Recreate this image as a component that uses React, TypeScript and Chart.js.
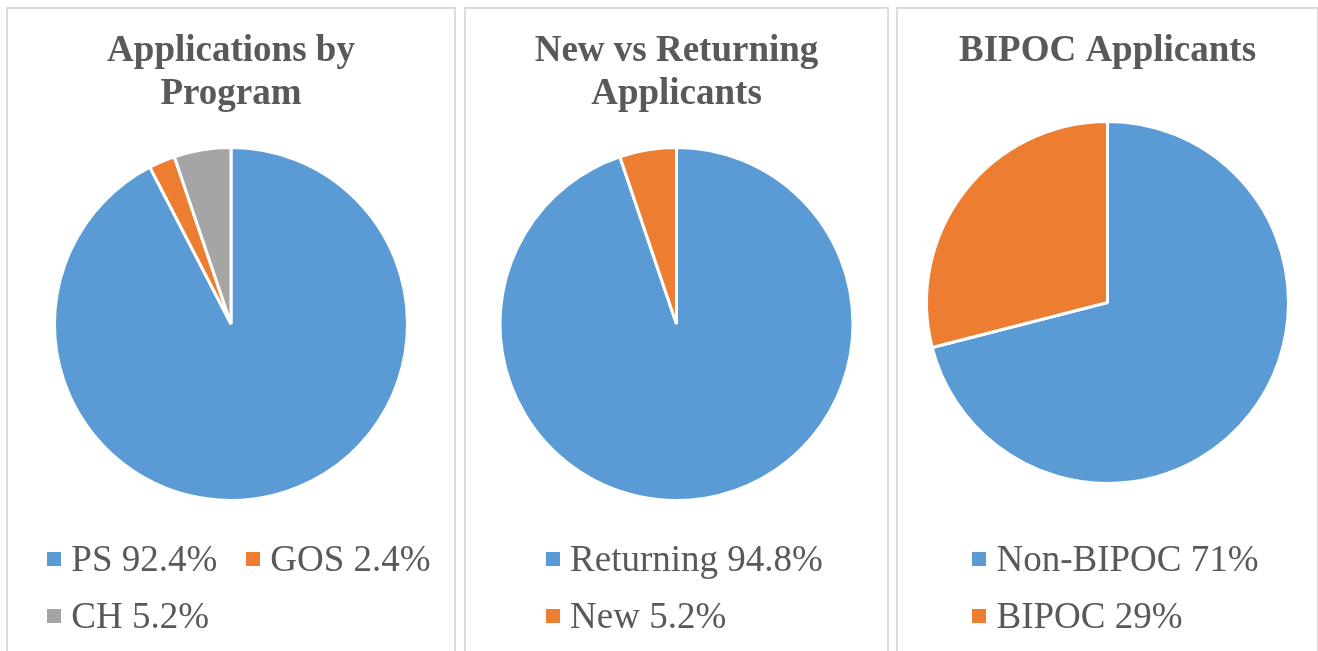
import React, { useEffect, useRef } from "react";
import { Chart, registerables } from "chart.js";

Chart.register(...registerables);

// ---- Data ----
const programLabels = ["PS 92.4%", "GOS 2.4%", "CH 5.2%"];
const programValues = [92.4, 2.4, 5.2];

const returningLabels = ["Returning 94.8%", "New 5.2%"];
const returningValues = [94.8, 5.2];

const bipocLabels = ["Non-BIPOC 71%", "BIPOC 29%"];
const bipocValues = [71, 29];

const programTitle = ["Applications by", "Program"];
const returningTitle = ["New vs Returning", "Applicants"];
const bipocTitle = ["BIPOC Applicants"];

const sliceColors = ["#5B9BD5", "#ED7D31", "#A5A5A5"];

const FONT = '"Liberation Serif", "Times New Roman", Times, serif';
const TEXT_COLOR = "#595959";
const PAGE_H = 651;

type PanelProps = {
  left: number;
  width: number;
  title: string[];
  labels: string[];
  values: number[];
  rows: number[][];
  titlePadBottom: number;
  layoutBottom: number;
};

function PiePanel({ left, width, title, labels, values, rows, titlePadBottom, layoutBottom }: PanelProps) {
  const ref = useRef<HTMLCanvasElement | null>(null);

  useEffect(() => {
    if (!ref.current) return;
    const chart = new Chart(ref.current, {
      type: "pie",
      data: {
        labels,
        datasets: [
          {
            data: values,
            backgroundColor: sliceColors.slice(0, values.length),
            borderColor: "#ffffff",
            borderWidth: 3,
          },
        ],
      },
      options: {
        responsive: false,
        animation: false,
        events: [],
        layout: { padding: { top: 0, bottom: layoutBottom, left: 0, right: 0 } },
        plugins: {
          legend: { display: false },
          tooltip: { enabled: false },
          title: {
            display: true,
            text: title,
            color: TEXT_COLOR,
            font: { family: FONT, size: 37, weight: "bold", lineHeight: 43 / 37 },
            padding: { top: 30, bottom: titlePadBottom },
          },
        },
      },
    });
    return () => chart.destroy();
  }, []);

  return (
    <>
      <div
        style={{
          position: "absolute",
          left: left - 1,
          top: 7,
          width: width + 2,
          height: 700,
          border: "2px solid #dddddd",
          boxSizing: "border-box",
        }}
      />
      <canvas
        ref={ref}
        width={width}
        height={PAGE_H}
        style={{ position: "absolute", left, top: 0, width, height: PAGE_H }}
      />
      <div
        style={{
          position: "absolute",
          left,
          width,
          top: 530,
          textAlign: "center",
          fontFamily: FONT,
          fontSize: 37,
          color: TEXT_COLOR,
          boxSizing: "border-box",
          paddingLeft: 16,
        }}
      >
        <div style={{ display: "inline-block", textAlign: "left" }}>
          {rows.map((row, ri) => (
            <div key={ri} style={{ display: "flex", alignItems: "center", height: 57, whiteSpace: "nowrap" }}>
              {row.map((idx, k) => (
                <span
                  key={idx}
                  style={{
                    display: "inline-flex",
                    alignItems: "center",
                    marginRight: k < row.length - 1 ? 29 : 0,
                    lineHeight: "57px",
                  }}
                >
                  <span
                    style={{
                      display: "inline-block",
                      width: 14,
                      height: 14,
                      background: sliceColors[idx],
                      marginRight: 10,
                    }}
                  />
                  <span>{labels[idx]}</span>
                </span>
              ))}
            </div>
          ))}
        </div>
      </div>
    </>
  );
}

export default function App() {
  return (
    <div style={{ position: "fixed", inset: 0, background: "#ffffff", overflow: "hidden" }}>
      <PiePanel
        left={7}
        width={448}
        title={programTitle}
        labels={programLabels}
        values={programValues}
        rows={[[0, 1], [2]]}
        titlePadBottom={30}
        layoutBottom={149}
      />
      <PiePanel
        left={465}
        width={423}
        title={returningTitle}
        labels={returningLabels}
        values={returningValues}
        rows={[[0], [1]]}
        titlePadBottom={30}
        layoutBottom={149}
      />
      <PiePanel
        left={897}
        width={421}
        title={bipocTitle}
        labels={bipocLabels}
        values={bipocValues}
        rows={[[0], [1]]}
        titlePadBottom={47}
        layoutBottom={166}
      />
    </div>
  );
}
